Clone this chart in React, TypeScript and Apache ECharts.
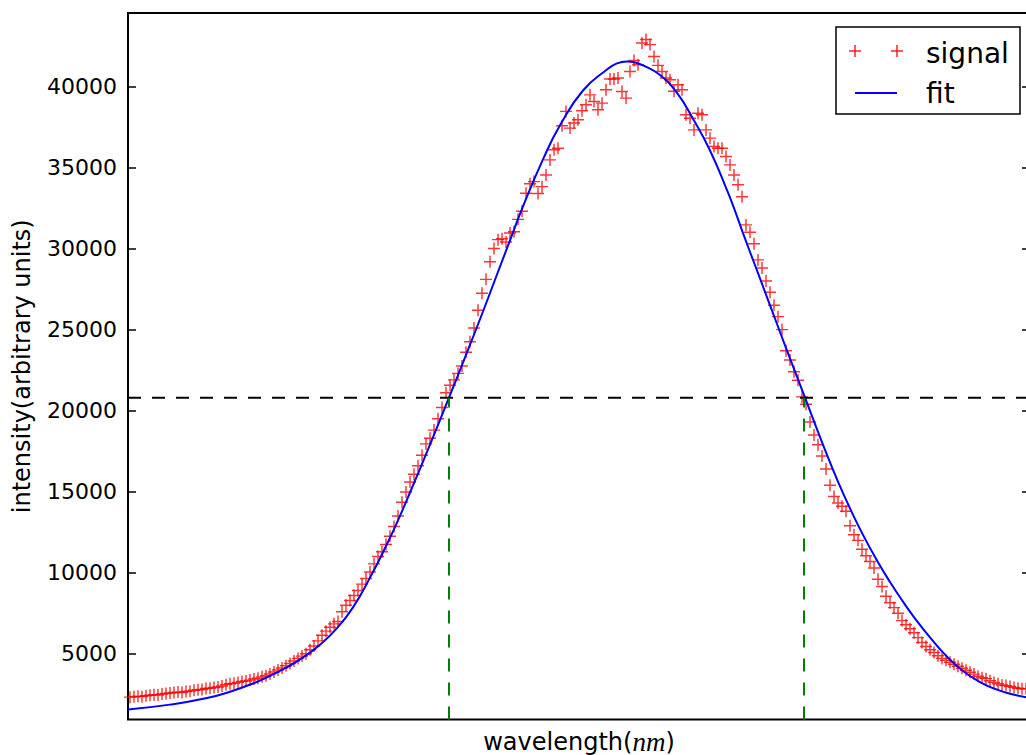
import React, { useEffect, useRef } from "react";
import * as echarts from "echarts";

// wavelength grid of the measured signal
const signalStart = 540.0;
const signalStep = 0.4;
const signalValues = [
  2330, 2350, 2380, 2360, 2410, 2450, 2480, 2460, 2520, 2550,
  2580, 2610, 2640, 2620, 2680, 2700, 2750, 2780, 2800, 2860,
  2880, 2920, 2950, 3020, 3100, 3150, 3180, 3240, 3300, 3330,
  3380, 3450, 3500, 3580, 3650, 3760, 3880, 4000, 4130, 4260,
  4400, 4560, 4720, 4860, 5000, 5250, 5480, 5800, 6150, 6400,
  6640, 6850, 7000, 7600, 8000, 8290, 8600, 8910, 9300, 9650,
  10050, 10550, 11000, 11300, 11750, 12250, 12850, 13500, 14350, 14980,
  15600, 16080, 16600, 17250, 17950, 18300, 18800, 19500, 20200, 21100,
  21570, 21900, 22300, 22750, 23600, 24250, 25100, 26200, 27240, 28100,
  29190, 30000, 30550, 30600, 30400, 30960, 31040, 31800, 32300, 33410,
  34000, 34130, 33400, 33820, 34540, 35470, 36090, 36190, 37570, 38460,
  37430, 37740, 37940, 38500, 38870, 39480, 39070, 38560, 38970, 39800,
  40460, 40460, 40520, 39690, 39280, 40920, 41600, 41340, 42680, 42900,
  42580, 41850, 41300, 40920, 40520, 40410, 39700, 40100, 39800, 38250,
  38040, 37320, 38350, 38250, 37320, 36810, 36290, 36190, 36190, 35680,
  35160, 34540, 33930, 33200, 31460, 31000, 30300, 29300, 28800, 28000,
  27300, 26500, 25800, 25000, 23700, 23120, 22400, 21880, 20850, 20400,
  19300, 18500, 17900, 17200, 16400, 15400, 14700, 14300, 14100, 13800,
  12900, 12350, 12000, 11450, 11050, 10700, 10300, 9600, 9150, 8550,
  8150, 7850, 7500, 7050, 6800, 6550, 6300, 6000, 5700, 5450,
  5250, 5080, 4880, 4720, 4600, 4480, 4360, 4230, 4110, 3990,
  3860, 3750, 3620, 3530, 3470, 3340, 3240, 3150, 3080, 3040,
  2980, 2930, 2880, 2850, 2840,
];

const fitWavelengths = [
  539.8, 544.0, 547.7, 550.0, 552.3, 554.0, 555.7, 557.3, 559.0, 560.7,
  562.3, 564.0, 565.7, 566.8, 568.0, 570.0, 571.9, 573.7, 575.3, 576.7,
  578.0, 579.3, 581.3, 583.0, 585.3, 587.7, 588.7, 589.7, 590.5, 591.3,
  593.0, 594.7, 596.3, 598.0, 599.7, 600.5, 601.3, 602.4, 603.5, 604.6,
  605.7, 607.5, 608.6, 609.7, 610.8, 612.0, 613.3, 614.7, 616.0, 617.3,
  618.6, 620.0, 621.6, 623.3, 625.0, 626.7, 628.3, 630.0,
];
const fitValues = [
  1573, 1867, 2274, 2665, 3171, 3647, 4174, 4782, 5564, 6584,
  7864, 9700, 11773, 13236, 14952, 17912, 20800, 23590, 26118, 28400,
  30500, 32600, 35500, 37600, 39750, 41050, 41420, 41540, 41480, 41300,
  40700, 39600, 38000, 36050, 33600, 32330, 30950, 29140, 27330, 25515,
  23700, 20800, 19010, 17270, 15620, 13970, 12340, 10760, 9430, 8220,
  7100, 6010, 4890, 3940, 3260, 2790, 2490, 2290,
];

const halfMax = 20800;
const fwhmEdges = [571.9, 607.4];
const yTicks = [5000, 10000, 15000, 20000, 25000, 30000, 35000, 40000];
const yMin = 950;
const yMax = 44530;
const xMin = 539.8;
const xMax = 630.0;

const PLUS = "path://M4.4,0H5.6V4.4H10V5.6H5.6V10H4.4V5.6H0V4.4H4.4Z";
const FONT = "DejaVu Sans";

export default function App() {
  const ref = useRef<HTMLDivElement>(null);
  useEffect(() => {
    const chart = echarts.init(ref.current!, null, { renderer: "svg" });
    const signal = signalValues.map((v, i) => [signalStart + i * signalStep, v]);
    const fit = fitWavelengths.map((w, i) => [w, fitValues[i]]);
    const yAxisBase = {
      type: "value",
      min: yMin,
      max: yMax,
      axisLine: { show: false },
      splitLine: { show: false },
      axisTick: {
        show: true,
        inside: true,
        length: 8,
        customValues: yTicks,
        lineStyle: { color: "#000", width: 1.5 },
      },
    };
    chart.setOption({
      animation: false,
      backgroundColor: "#fff",
      grid: {
        left: 128,
        right: 10,
        top: 13,
        bottom: 35.5,
        outerBoundsMode: "none",
        containLabel: false,
        show: true,
        borderColor: "#000",
        borderWidth: 2,
        backgroundColor: "transparent",
      },
      xAxis: {
        type: "value",
        min: xMin,
        max: xMax,
        axisLine: { show: false },
        axisTick: { show: false },
        axisLabel: { show: false },
        splitLine: { show: false },
        name: "wavelength({i|nm})",
        nameLocation: "middle",
        nameGap: 10,
        nameTextStyle: {
          fontFamily: FONT,
          fontSize: 24,
          lineHeight: 24,
          color: "#000",
          verticalAlign: "top",
          rich: {
            i: {
              fontFamily: "Liberation Serif",
              fontStyle: "italic",
              fontSize: 27,
              lineHeight: 24,
              color: "#000",
            },
          },
        },
      },
      yAxis: [
        {
          ...yAxisBase,
          position: "left",
          axisLabel: {
            customValues: yTicks,
            formatter: (v: number) => String(v),
            fontSize: 22,
            fontFamily: FONT,
            color: "#000",
            margin: 11,
          },
          name: "intensity(arbitrary units)",
          nameLocation: "middle",
          nameGap: 94,
          nameTextStyle: { fontFamily: FONT, fontSize: 24, color: "#000" },
        },
        {
          ...yAxisBase,
          position: "right",
          axisLabel: { show: false },
        },
      ],
      series: [
        {
          name: "signal",
          type: "scatter",
          data: signal,
          symbol: PLUS,
          symbolSize: 12,
          itemStyle: { color: "#ff0000" },
          z: 2,
        },
        {
          name: "fit",
          type: "line",
          data: fit,
          smooth: 0.5,
          showSymbol: false,
          symbol: "none",
          lineStyle: { color: "#0000ff", width: 2 },
          z: 3,
        },
        {
          name: "half maximum",
          type: "line",
          data: [
            [xMin, halfMax],
            [xMax, halfMax],
          ],
          symbol: "none",
          lineStyle: { color: "#000", width: 2, type: [13, 11] },
          z: 4,
        },
        ...fwhmEdges.map((w) => ({
          name: "edge",
          type: "line",
          data: [
            [w, yMin],
            [w, halfMax],
          ],
          symbol: "none",
          lineStyle: { color: "#008000", width: 2, type: [13, 11] },
          z: 4,
        })),
      ],
      graphic: [
        {
          type: "group",
          z: 100,
          children: [
            {
              type: "rect",
              shape: { x: 836, y: 27, width: 184, height: 87 },
              style: { fill: "#fff", stroke: "#000", lineWidth: 1.5 },
            },
            { type: "line", shape: { x1: 849, y1: 51, x2: 861, y2: 51 }, style: { stroke: "#ff0000", lineWidth: 1.3 } },
            { type: "line", shape: { x1: 855, y1: 45, x2: 855, y2: 57 }, style: { stroke: "#ff0000", lineWidth: 1.3 } },
            { type: "line", shape: { x1: 891, y1: 51, x2: 903, y2: 51 }, style: { stroke: "#ff0000", lineWidth: 1.3 } },
            { type: "line", shape: { x1: 897, y1: 45, x2: 897, y2: 57 }, style: { stroke: "#ff0000", lineWidth: 1.3 } },
            { type: "line", shape: { x1: 855, y1: 93, x2: 897, y2: 93 }, style: { stroke: "#0000ff", lineWidth: 2 } },
            {
              type: "text",
              x: 926,
              y: 53,
              style: { text: "signal", font: `28px "${FONT}"`, fill: "#000", verticalAlign: "middle", align: "left" },
            },
            {
              type: "text",
              x: 926,
              y: 93,
              style: { text: "fit", font: `28px "${FONT}"`, fill: "#000", verticalAlign: "middle", align: "left" },
            },
          ],
        },
      ],
    });
    return () => chart.dispose();
  }, []);
  return (
    <div
      style={{
        position: "fixed",
        left: 0,
        top: 0,
        width: 1026,
        height: 755,
        overflow: "hidden",
        background: "#fff",
      }}
    >
      <div ref={ref} style={{ width: 1040, height: 755 }} />
    </div>
  );
}
